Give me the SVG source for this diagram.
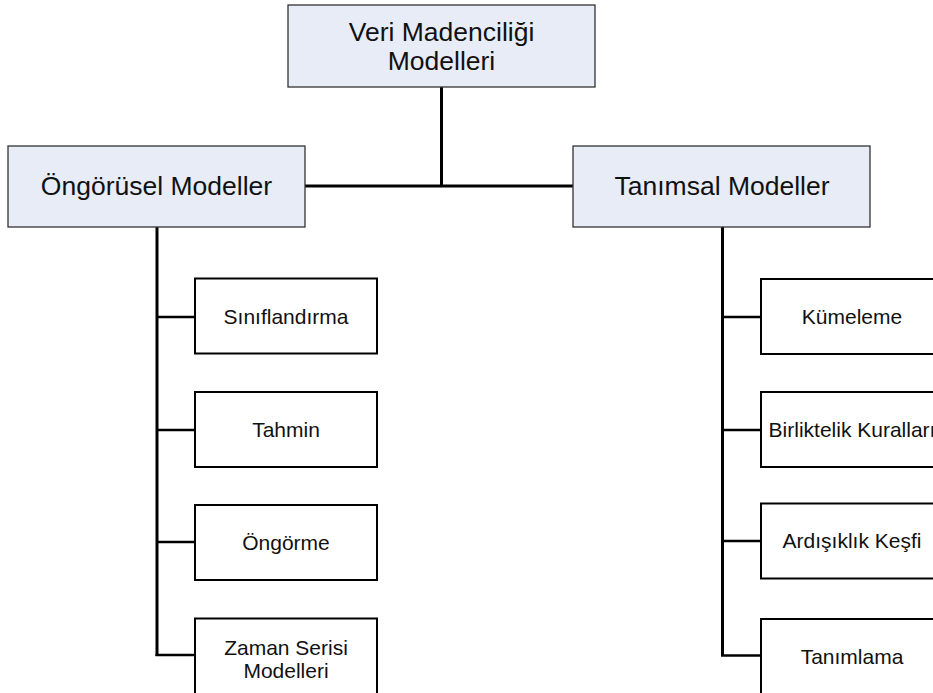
<svg xmlns="http://www.w3.org/2000/svg" width="933" height="693" viewBox="0 0 933 693">
<style>
.parent{fill:#E7ECF7;stroke:#333;stroke-width:1.3}
.child{fill:#fff;stroke:#000;stroke-width:2}
.conn{stroke:#000;stroke-width:3;fill:none}
.br{stroke:#000;stroke-width:2.5;fill:none}
.pt{font-family:"Liberation Sans",Arial,sans-serif;font-size:26.5px;fill:#111;text-anchor:middle}
.ct{font-family:"Liberation Sans",Arial,sans-serif;font-size:21px;fill:#111;text-anchor:middle}
</style>
<rect width="933" height="693" fill="#fff"/>
<g id="connectors">
<line class="conn" x1="441.5" y1="87" x2="441.5" y2="186"/>
<line class="conn" x1="305" y1="186" x2="573" y2="186"/>
<line class="conn" x1="157" y1="227" x2="157" y2="656"/>
<line class="conn" x1="722.5" y1="227" x2="722.5" y2="656"/>
<line class="br" x1="157" y1="317" x2="195" y2="317"/>
<line class="br" x1="157" y1="430" x2="195" y2="430"/>
<line class="br" x1="157" y1="542" x2="195" y2="542"/>
<line class="br" x1="155.5" y1="655" x2="195" y2="655"/>
<line class="br" x1="722.5" y1="317" x2="761" y2="317"/>
<line class="br" x1="722.5" y1="430" x2="761" y2="430"/>
<line class="br" x1="722.5" y1="541" x2="761" y2="541"/>
<line class="br" x1="721" y1="655.5" x2="761" y2="655.5"/>
</g>
<g id="root">
<rect class="parent" x="288" y="5" width="307" height="82"/>
<text class="pt" x="441.5" y="41">Veri Madenciliği</text>
<text class="pt" x="441.5" y="70">Modelleri</text>
</g>
<g id="ongorusel">
<rect class="parent" x="8" y="146" width="297" height="81"/>
<text class="pt" x="156.5" y="195">Öngörüsel Modeller</text>
</g>
<g id="tanimsal">
<rect class="parent" x="573" y="146" width="297" height="81"/>
<text class="pt" x="722" y="195">Tanımsal Modeller</text>
</g>
<g id="siniflandirma">
<rect class="child" x="195" y="278.5" width="182" height="75"/>
<text class="ct" x="286" y="324">Sınıflandırma</text>
</g>
<g id="tahmin">
<rect class="child" x="195" y="392" width="182" height="75"/>
<text class="ct" x="286" y="437">Tahmin</text>
</g>
<g id="ongorme">
<rect class="child" x="195" y="505" width="182" height="75"/>
<text class="ct" x="286" y="550">Öngörme</text>
</g>
<g id="zaman">
<rect class="child" x="195" y="618.5" width="182" height="76"/>
<text class="ct" x="286" y="655">Zaman Serisi</text>
<text class="ct" x="286" y="678">Modelleri</text>
</g>
<g id="kumeleme">
<rect class="child" x="761" y="279" width="182" height="75"/>
<text class="ct" x="852" y="324">Kümeleme</text>
</g>
<g id="birliktelik">
<rect class="child" x="761" y="392" width="182" height="75"/>
<text class="ct" x="852" y="437">Birliktelik Kuralları</text>
</g>
<g id="ardisiklik">
<rect class="child" x="761" y="503.5" width="182" height="75"/>
<text class="ct" x="852" y="548">Ardışıklık Keşfi</text>
</g>
<g id="tanimlama">
<rect class="child" x="761" y="619" width="182" height="76"/>
<text class="ct" x="852" y="664">Tanımlama</text>
</g>
</svg>
